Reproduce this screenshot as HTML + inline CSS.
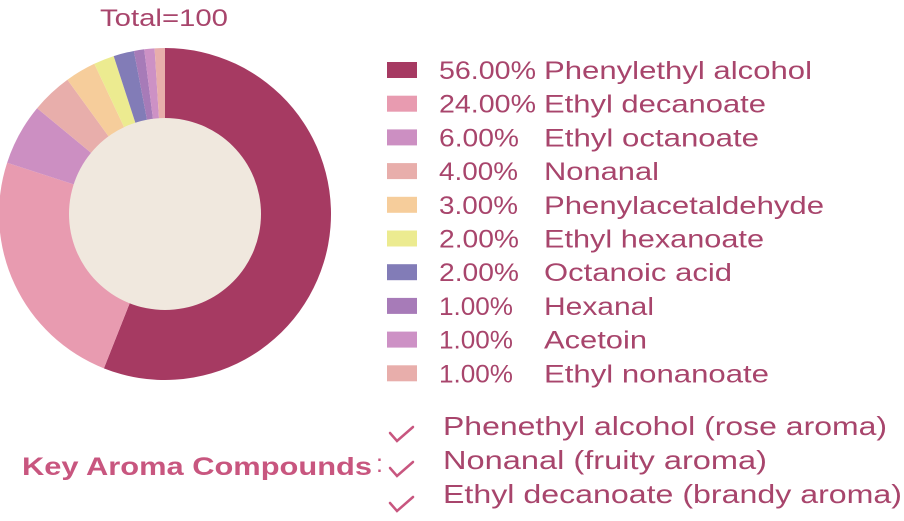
<!DOCTYPE html>
<html><head><meta charset="utf-8"><style>
body{margin:0;background:#fff;width:904px;height:516px;overflow:hidden;font-family:"Liberation Sans",sans-serif}
</style></head><body>
<svg id="s" width="904" height="516" xmlns="http://www.w3.org/2000/svg" font-family="Liberation Sans, sans-serif">
<text x="100" y="26" font-size="24" fill="#a8456c" textLength="128" lengthAdjust="spacingAndGlyphs">Total=100</text>
<g id="pie"></g>
<circle cx="165" cy="214" r="96" fill="#f0e8de"/>
<g id="leg" font-size="25" fill="#a8456c"></g>
<g fill="none" stroke="#c8567f" stroke-width="2.5" stroke-linecap="round">
<path d="M390 433 L397 441 L413 427"/>
<path d="M390 468 L397 476 L413 462"/>
<path d="M390 503 L397 511 L413 497"/>
</g>
<text x="22" y="475" font-size="25" font-weight="bold" fill="#c8567f" textLength="350" lengthAdjust="spacingAndGlyphs">Key Aroma Compounds</text>
<text x="376" y="472" font-size="25" fill="#c8567f">:</text>
<g font-size="26" fill="#a8456c" lengthAdjust="spacingAndGlyphs">
<text x="443" y="435" textLength="444" lengthAdjust="spacingAndGlyphs">Phenethyl alcohol (rose aroma)</text>
<text x="443" y="469" textLength="324" lengthAdjust="spacingAndGlyphs">Nonanal (fruity aroma)</text>
<text x="443" y="503" textLength="459" lengthAdjust="spacingAndGlyphs">Ethyl decanoate (brandy aroma)</text>
</g>
</svg>
<script>
var d=[[56,"#a63a62","Phenylethyl alcohol",97,268],[24,"#e89bb0","Ethyl decanoate",97,222],[6,"#cc8fc2","Ethyl octanoate",80,215],[4,"#e8aeab","Nonanal",79,115],[3,"#f6cd9b","Phenylacetaldehyde",79,280],[2,"#eceb90","Ethyl hexanoate",80,220],[2,"#827cb7","Octanoic acid",80,188],[1,"#a77bb8","Hexanal",74,110],[1,"#cd91c5","Acetoin",74,103],[1,"#e8aeab","Ethyl nonanoate",74,225]];
var cx=165,cy=214,R=166,a=0,h="",l="";
function p(t){t=t*Math.PI/180;return (cx+R*Math.sin(t)).toFixed(2)+" "+(cy-R*Math.cos(t)).toFixed(2);}
d.forEach(function(e,i){var b=a+e[0]*3.6;h+='<path d="M'+cx+' '+cy+' L'+p(a)+' A'+R+' '+R+' 0 '+(b-a>180?1:0)+' 1 '+p(b)+' Z" fill="'+e[1]+'"/>';a=b;
var y=70+i*33.7;l+='<rect x="387" y="'+(y-8)+'" width="30" height="16" fill="'+e[1]+'"/><text x="439" y="'+(y+9)+'" textLength="'+e[3]+'" lengthAdjust="spacingAndGlyphs">'+e[0].toFixed(2)+'%</text><text x="544" y="'+(y+9)+'" textLength="'+e[4]+'" lengthAdjust="spacingAndGlyphs">'+e[2]+'</text>';});
document.getElementById("pie").innerHTML=h;document.getElementById("leg").innerHTML=l;
</script>
</body></html>
